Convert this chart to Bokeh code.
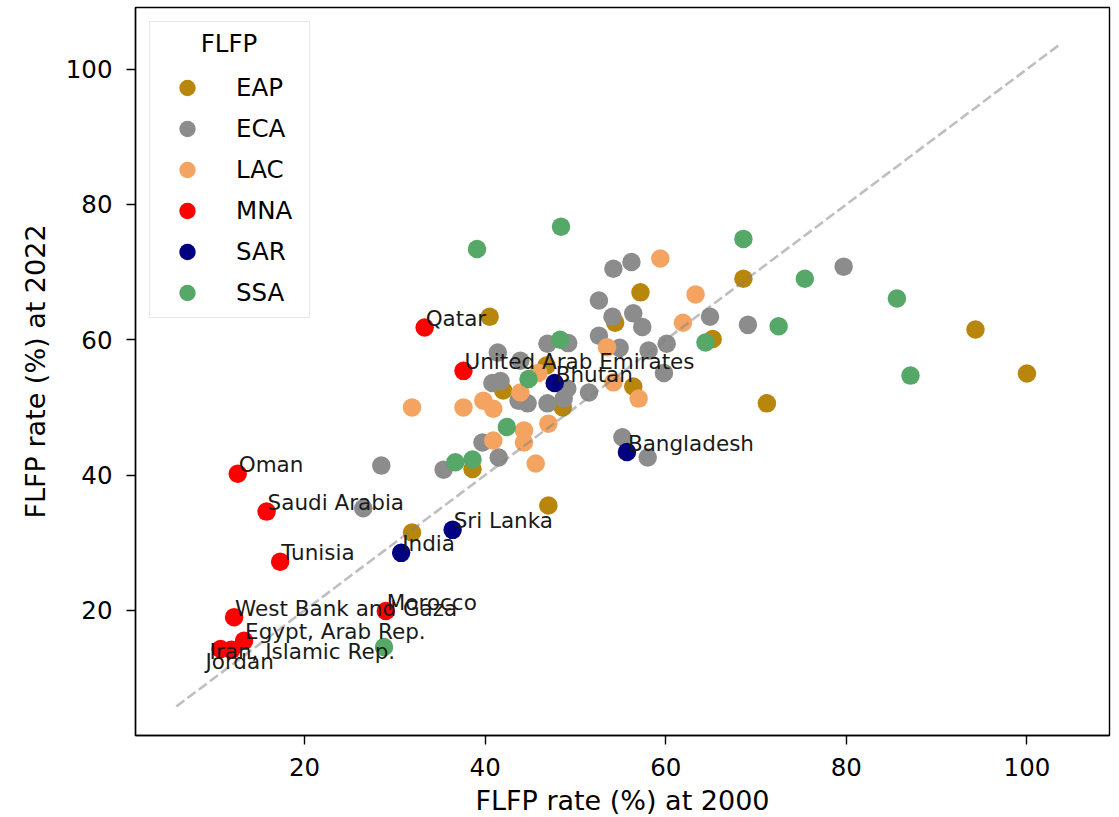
from bokeh.plotting import figure
from bokeh.models import Range1d, Legend, LegendItem, Label, ColumnDataSource, FixedTicker
from bokeh.core.properties import value
from bokeh.embed import file_html
from bokeh.resources import INLINE

# ---------------- data ----------------
regions = ["EAP", "ECA", "LAC", "MNA", "SAR", "SSA"]
region_colors = ["#b8860b", "#8c8c8c", "#f4a460", "#ff0000", "#000080", "#55a868"]

eap_2000 = [40.5, 57.2, 68.6, 94.3, 100.0, 71.2, 65.2, 54.4, 56.4, 42.0, 48.6, 38.6, 47.0, 31.9, 46.8]
eap_2022 = [63.4, 67.0, 69.0, 61.5, 55.0, 50.6, 60.1, 62.5, 53.1, 52.5, 50.0, 40.9, 35.5, 31.5, 56.2]

eca_2000 = [54.2, 56.2, 52.6, 54.1, 56.4, 57.4, 52.6, 54.9, 58.1, 60.1, 64.9, 69.1, 79.7, 59.8,
            46.9, 41.4, 43.9, 40.8, 41.7, 43.7, 44.7, 46.9, 48.7, 49.1, 51.5, 39.7, 41.5,
            35.4, 28.5, 26.5, 55.2, 58.0, 49.2]
eca_2022 = [70.5, 71.5, 65.8, 63.4, 63.9, 61.9, 60.6, 58.8, 58.4, 59.4, 63.4, 62.2, 70.8, 55.1,
            59.4, 58.1, 56.9, 53.6, 53.9, 51.0, 50.6, 50.6, 51.3, 52.8, 52.2, 44.8, 42.6,
            40.8, 41.4, 35.1, 45.6, 42.6, 59.5]

lac_2000 = [59.4, 63.3, 61.9, 53.5, 54.2, 57.0, 31.9, 37.6, 39.8, 40.9, 43.9, 47.0, 44.3, 44.3,
            40.9, 45.6, 45.9]
lac_2022 = [72.0, 66.7, 62.5, 58.9, 53.7, 51.3, 50.0, 50.0, 51.0, 49.8, 52.2, 47.6, 46.6, 44.8,
            45.1, 41.7, 55.1]

mna_names = ["Qatar", "United Arab Emirates", "Oman", "Saudi Arabia", "Tunisia", "Morocco",
             "West Bank and Gaza", "Egypt, Arab Rep.", "Iran, Islamic Rep.", "Jordan"]
mna_2000 = [33.3, 37.6, 12.6, 15.8, 17.3, 29.0, 12.2, 13.3, 10.7, 11.9]
mna_2022 = [61.8, 55.4, 40.2, 34.6, 27.2, 19.9, 19.0, 15.5, 14.3, 14.2]

sar_names = ["Bhutan", "Bangladesh", "Sri Lanka", "India"]
sar_2000 = [47.7, 55.7, 36.4, 30.7]
sar_2022 = [53.6, 43.4, 31.9, 28.5]

ssa_2000 = [39.1, 48.4, 68.6, 75.4, 85.6, 72.5, 64.4, 87.1, 48.3, 44.8, 42.4, 36.7, 38.6, 28.8]
ssa_2022 = [73.4, 76.7, 74.9, 69.0, 66.1, 62.0, 59.6, 54.7, 60.0, 54.2, 47.1, 41.9, 42.3, 14.6]

diag = [5.8, 103.7]          # y = x reference line extent
ticks = [20, 40, 60, 80, 100]

series_2000 = [eap_2000, eca_2000, lac_2000, mna_2000, sar_2000, ssa_2000]
series_2022 = [eap_2022, eca_2022, lac_2022, mna_2022, sar_2022, ssa_2022]

# label nudges in screen pixels (style only)
default_nudge = (1, -9)
label_nudge = {"Iran, Islamic Rep.": (-11, 3), "Jordan": (-26, 12)}

FONT = "DejaVu Sans"

p = figure(frame_width=974, frame_height=728,
           min_border_left=135, min_border_right=10, min_border_top=7, min_border_bottom=82,
           x_range=Range1d(1.28, 109.14), y_range=Range1d(1.51, 109.1),
           output_backend="svg", toolbar_location=None,
           background_fill_color="white", border_fill_color="white")

p.xgrid.visible = False
p.ygrid.visible = False
p.outline_line_color = "black"
p.outline_line_width = 1.4

for ax in (p.xaxis[0], p.yaxis[0]):
    ax.ticker = FixedTicker(ticks=ticks)
    ax.axis_line_width = 1.4
    ax.major_tick_line_width = 1.4
    ax.major_tick_out = 9
    ax.major_tick_in = 0
    ax.minor_tick_out = 0
    ax.minor_tick_in = 0
    ax.major_label_text_font = FONT
    ax.major_label_text_font_size = "24.5px"
    ax.major_label_text_color = "black"
    ax.axis_label_text_font = FONT
    ax.axis_label_text_font_size = "27px"
    ax.axis_label_text_font_style = "normal"
    ax.axis_label_text_color = "black"

p.xaxis.axis_label = "FLFP rate (%) at 2000"
p.yaxis.axis_label = "FLFP rate (%) at 2022"
p.xaxis.major_label_standoff = 13
p.yaxis.major_label_standoff = 14
p.xaxis.axis_label_standoff = 6
p.yaxis.axis_label_standoff = 12

items = []
for name, col, xs, ys in zip(regions, region_colors, series_2000, series_2022):
    r = p.scatter(x=xs, y=ys, size=18.5, fill_color=col, line_color=None)
    items.append(LegendItem(label=name, renderers=[r]))

p.line(x=diag, y=diag, line_color="gray", line_alpha=0.5, line_width=2.6, line_dash="10 4")

lab_names = mna_names + sar_names
lab_x = mna_2000 + sar_2000
lab_y = mna_2022 + sar_2022
dx = [label_nudge.get(n, default_nudge)[0] for n in lab_names]
dy = [label_nudge.get(n, default_nudge)[1] for n in lab_names]
src = ColumnDataSource(dict(x=lab_x, y=lab_y, t=lab_names, dx=dx, dy=dy))
p.text(x="x", y="y", text="t", x_offset="dx", y_offset="dy", source=src,
       text_font=value(FONT), text_font_size="21.5px", text_color="#1a1a1a",
       text_align="left", text_baseline="alphabetic")

legend = Legend(items=items, location="top_left", margin=14,
                title=" ", title_text_font_size="24.5px", title_standoff=13,
                padding=4, spacing=0, glyph_height=41, glyph_width=66,
                label_standoff=16, label_width=69,
                label_text_font=FONT, label_text_font_size="24.5px", label_text_color="black",
                border_line_color="#d0d0d0", border_line_width=1.4,
                background_fill_color="white", background_fill_alpha=0.0)
p.add_layout(legend)

title_label = Label(x=93.5, y=692, x_units="screen", y_units="screen", text="FLFP",
                    text_align="center", text_baseline="middle", level="overlay",
                    text_font=FONT, text_font_size="24.5px", text_color="black")
p.add_layout(title_label)

open("out.html", "w").write(file_html(p, INLINE))
